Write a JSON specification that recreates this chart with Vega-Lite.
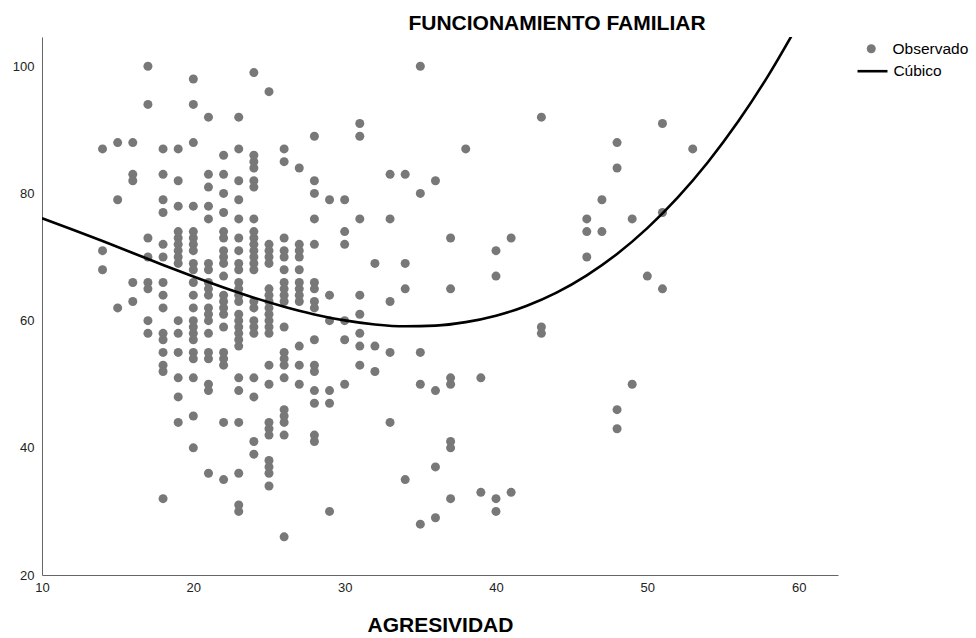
{
  "$schema": "https://vega.github.io/schema/vega-lite/v6.json",
  "width": 796,
  "height": 538,
  "autosize": "none",
  "padding": {"left": 42, "top": 37, "right": 138, "bottom": 63},
  "background": "white",
  "config": {
    "view": {"stroke": null},
    "font": "Liberation Sans",
    "axis": {"grid": false, "ticks": false, "labelFlush": false, "domainColor": "#666666", "domainWidth": 1, "labelColor": "#222222", "labelFont": "Liberation Sans", "labelFontSize": 13, "titleFont": "Liberation Sans", "titleColor": "#000000"}
  },
  "title": {"text": "FUNCIONAMIENTO FAMILIAR", "fontSize": 21, "fontWeight": "bold", "font": "Liberation Sans", "color": "#000000", "anchor": "middle", "dx": 117, "offset": 3},
  "datasets": {
    "obs": [
      {"x":14,"y":87},{"x":14,"y":71},{"x":14,"y":68},
      {"x":15,"y":88},{"x":15,"y":79},{"x":15,"y":62},
      {"x":16,"y":88},{"x":16,"y":83},{"x":16,"y":82},{"x":16,"y":66},{"x":16,"y":63},
      {"x":17,"y":100},{"x":17,"y":94},{"x":17,"y":73},{"x":17,"y":70},{"x":17,"y":66},{"x":17,"y":65},{"x":17,"y":60},{"x":17,"y":58},
      {"x":18,"y":87},{"x":18,"y":83},{"x":18,"y":79},{"x":18,"y":77},{"x":18,"y":72},{"x":18,"y":70},{"x":18,"y":66},{"x":18,"y":64},{"x":18,"y":62},{"x":18,"y":58},{"x":18,"y":57},{"x":18,"y":55},{"x":18,"y":53},{"x":18,"y":52},{"x":18,"y":32},
      {"x":19,"y":87},{"x":19,"y":82},{"x":19,"y":78},{"x":19,"y":74},{"x":19,"y":73},{"x":19,"y":72},{"x":19,"y":71},{"x":19,"y":70},{"x":19,"y":69},{"x":19,"y":60},{"x":19,"y":58},{"x":19,"y":55},{"x":19,"y":51},{"x":19,"y":48},{"x":19,"y":44},
      {"x":20,"y":98},{"x":20,"y":94},{"x":20,"y":88},{"x":20,"y":78},{"x":20,"y":74},{"x":20,"y":73},{"x":20,"y":72},{"x":20,"y":71},{"x":20,"y":69},{"x":20,"y":68},{"x":20,"y":66},{"x":20,"y":64},{"x":20,"y":62},{"x":20,"y":60},{"x":20,"y":59},{"x":20,"y":58},{"x":20,"y":57},{"x":20,"y":55},{"x":20,"y":54},{"x":20,"y":51},{"x":20,"y":45},{"x":20,"y":40},
      {"x":21,"y":92},{"x":21,"y":83},{"x":21,"y":81},{"x":21,"y":78},{"x":21,"y":76},{"x":21,"y":69},{"x":21,"y":68},{"x":21,"y":66},{"x":21,"y":65},{"x":21,"y":64},{"x":21,"y":62},{"x":21,"y":61},{"x":21,"y":60},{"x":21,"y":58},{"x":21,"y":55},{"x":21,"y":54},{"x":21,"y":50},{"x":21,"y":49},{"x":21,"y":36},
      {"x":22,"y":86},{"x":22,"y":83},{"x":22,"y":80},{"x":22,"y":77},{"x":22,"y":74},{"x":22,"y":73},{"x":22,"y":71},{"x":22,"y":70},{"x":22,"y":69},{"x":22,"y":67},{"x":22,"y":64},{"x":22,"y":63},{"x":22,"y":62},{"x":22,"y":61},{"x":22,"y":59},{"x":22,"y":55},{"x":22,"y":54},{"x":22,"y":53},{"x":22,"y":44},{"x":22,"y":35},
      {"x":23,"y":92},{"x":23,"y":87},{"x":23,"y":82},{"x":23,"y":79},{"x":23,"y":76},{"x":23,"y":73},{"x":23,"y":71},{"x":23,"y":69},{"x":23,"y":68},{"x":23,"y":66},{"x":23,"y":65},{"x":23,"y":64},{"x":23,"y":63},{"x":23,"y":61},{"x":23,"y":60},{"x":23,"y":59},{"x":23,"y":58},{"x":23,"y":57},{"x":23,"y":56},{"x":23,"y":51},{"x":23,"y":49},{"x":23,"y":44},{"x":23,"y":36},{"x":23,"y":31},{"x":23,"y":30},
      {"x":24,"y":99},{"x":24,"y":86},{"x":24,"y":85},{"x":24,"y":84},{"x":24,"y":82},{"x":24,"y":81},{"x":24,"y":76},{"x":24,"y":74},{"x":24,"y":73},{"x":24,"y":72},{"x":24,"y":71},{"x":24,"y":70},{"x":24,"y":69},{"x":24,"y":68},{"x":24,"y":63},{"x":24,"y":62},{"x":24,"y":60},{"x":24,"y":59},{"x":24,"y":58},{"x":24,"y":51},{"x":24,"y":48},{"x":24,"y":41},{"x":24,"y":39},
      {"x":25,"y":96},{"x":25,"y":72},{"x":25,"y":71},{"x":25,"y":70},{"x":25,"y":69},{"x":25,"y":65},{"x":25,"y":64},{"x":25,"y":63},{"x":25,"y":62},{"x":25,"y":61},{"x":25,"y":60},{"x":25,"y":59},{"x":25,"y":58},{"x":25,"y":53},{"x":25,"y":50},{"x":25,"y":44},{"x":25,"y":43},{"x":25,"y":42},{"x":25,"y":38},{"x":25,"y":37},{"x":25,"y":36},{"x":25,"y":34},
      {"x":26,"y":87},{"x":26,"y":85},{"x":26,"y":73},{"x":26,"y":71},{"x":26,"y":70},{"x":26,"y":68},{"x":26,"y":66},{"x":26,"y":65},{"x":26,"y":64},{"x":26,"y":63},{"x":26,"y":59},{"x":26,"y":55},{"x":26,"y":54},{"x":26,"y":53},{"x":26,"y":51},{"x":26,"y":46},{"x":26,"y":45},{"x":26,"y":44},{"x":26,"y":42},{"x":26,"y":26},
      {"x":27,"y":84},{"x":27,"y":72},{"x":27,"y":71},{"x":27,"y":70},{"x":27,"y":68},{"x":27,"y":66},{"x":27,"y":65},{"x":27,"y":64},{"x":27,"y":63},{"x":27,"y":56},{"x":27,"y":53},{"x":27,"y":50},
      {"x":28,"y":89},{"x":28,"y":82},{"x":28,"y":80},{"x":28,"y":76},{"x":28,"y":72},{"x":28,"y":66},{"x":28,"y":65},{"x":28,"y":63},{"x":28,"y":62},{"x":28,"y":57},{"x":28,"y":53},{"x":28,"y":52},{"x":28,"y":49},{"x":28,"y":47},{"x":28,"y":42},{"x":28,"y":41},
      {"x":29,"y":79},{"x":29,"y":64},{"x":29,"y":60},{"x":29,"y":49},{"x":29,"y":47},{"x":29,"y":30},
      {"x":30,"y":79},{"x":30,"y":74},{"x":30,"y":72},{"x":30,"y":60},{"x":30,"y":57},{"x":30,"y":50},
      {"x":31,"y":91},{"x":31,"y":89},{"x":31,"y":76},{"x":31,"y":64},{"x":31,"y":61},{"x":31,"y":58},{"x":31,"y":56},{"x":31,"y":53},
      {"x":32,"y":69},{"x":32,"y":56},{"x":32,"y":52},
      {"x":33,"y":83},{"x":33,"y":76},{"x":33,"y":63},{"x":33,"y":55},{"x":33,"y":44},
      {"x":34,"y":83},{"x":34,"y":69},{"x":34,"y":65},{"x":34,"y":35},
      {"x":35,"y":100},{"x":35,"y":80},{"x":35,"y":55},{"x":35,"y":50},{"x":35,"y":28},
      {"x":36,"y":82},{"x":36,"y":49},{"x":36,"y":37},{"x":36,"y":29},
      {"x":37,"y":73},{"x":37,"y":65},{"x":37,"y":51},{"x":37,"y":50},{"x":37,"y":41},{"x":37,"y":40},{"x":37,"y":32},
      {"x":38,"y":87},
      {"x":39,"y":51},{"x":39,"y":33},
      {"x":40,"y":71},{"x":40,"y":67},{"x":40,"y":32},{"x":40,"y":30},
      {"x":41,"y":73},{"x":41,"y":33},
      {"x":43,"y":92},{"x":43,"y":59},{"x":43,"y":58},
      {"x":46,"y":76},{"x":46,"y":74},{"x":46,"y":70},
      {"x":47,"y":79},{"x":47,"y":74},
      {"x":48,"y":88},{"x":48,"y":84},{"x":48,"y":46},{"x":48,"y":43},
      {"x":49,"y":76},{"x":49,"y":50},
      {"x":50,"y":67},
      {"x":51,"y":91},{"x":51,"y":77},{"x":51,"y":65},
      {"x":53,"y":87}
    ],
    "fit": [
      {"x":10,"fit":76.10},{"x":12,"fit":74.34},{"x":14,"fit":72.51},{"x":16,"fit":70.64},{"x":18,"fit":68.76},{"x":20,"fit":66.94},{"x":22,"fit":65.21},{"x":24,"fit":63.61},{"x":26,"fit":62.19},{"x":28,"fit":60.98},{"x":30,"fit":60.04},{"x":32,"fit":59.40},{"x":34,"fit":59.11},{"x":36,"fit":59.21},{"x":38,"fit":59.76},{"x":40,"fit":60.77},{"x":42,"fit":62.31},{"x":44,"fit":64.41},{"x":46,"fit":67.13},{"x":48,"fit":70.48},{"x":50,"fit":74.54},{"x":52,"fit":79.34},{"x":54,"fit":84.91},{"x":56,"fit":91.30},{"x":58,"fit":98.57},{"x":60,"fit":106.74}
    ]
  },
  "layer": [
    {
      "data": {"name": "obs"},
      "mark": {"type": "point", "filled": true, "opacity": 1, "size": 81, "color": "#787878", "strokeWidth": 0},
      "encoding": {
        "x": {"field": "x", "type": "quantitative", "scale": {"domain": [10, 62.6], "nice": false, "zero": false}, "axis": {"title": "AGRESIVIDAD", "values": [10, 20, 30, 40, 50, 60], "labelPadding": 6, "titleFontSize": 21, "titleFontWeight": "bold", "titlePadding": 20}},
        "y": {"field": "y", "type": "quantitative", "scale": {"domain": [20, 104.6], "nice": false, "zero": false}, "axis": {"title": null, "values": [20, 40, 60, 80, 100], "labelPadding": 8}},
        "shape": {
          "datum": "Observado",
          "type": "nominal",
          "scale": {"domain": ["Observado"], "range": ["circle"]},
          "legend": {
            "title": null,
            "orient": "none",
            "legendX": 821.5,
            "legendY": 4,
            "symbolSize": 81,
            "symbolFillColor": "#787878",
            "symbolStrokeWidth": 0,
            "symbolOpacity": 1,
            "labelFont": "Liberation Sans",
            "labelFontSize": 15.5,
            "labelColor": "#000000",
            "labelOffset": 13.5
          }
        }
      }
    },
    {
      "data": {"name": "fit"},
      "mark": {"type": "line", "strokeWidth": 2.6, "clip": true, "interpolate": "monotone"},
      "encoding": {
        "x": {"field": "x", "type": "quantitative"},
        "y": {"field": "fit", "type": "quantitative"},
        "color": {
          "datum": "Cúbico",
          "type": "nominal",
          "scale": {"domain": ["Cúbico"], "range": ["#000000"]},
          "legend": {
            "title": null,
            "orient": "none",
            "legendX": 814,
            "legendY": 17.7,
            "symbolType": "stroke",
            "symbolSize": 900,
            "symbolStrokeWidth": 2.6,
            "symbolStrokeColor": "#000000",
            "labelFont": "Liberation Sans",
            "labelFontSize": 15.5,
            "labelColor": "#000000",
            "labelOffset": 4.4
          }
        }
      }
    }
  ]
}
